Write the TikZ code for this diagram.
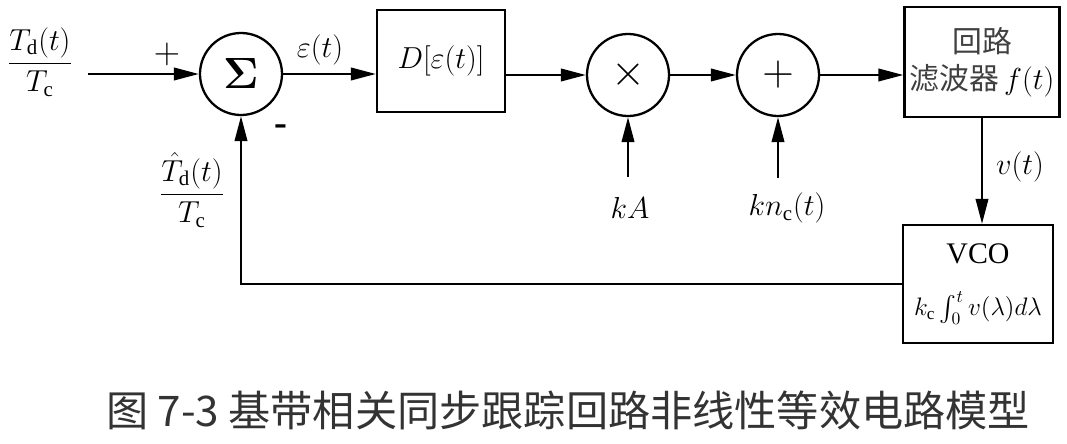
\documentclass[tikz,border=0pt]{standalone}
\usepackage{amsmath}
\usepackage{fontspec}
\setmainfont{Liberation Serif}
\newfontfamily\cjk{Noto Sans CJK SC}
\usepackage{tikz}
\usetikzlibrary{positioning,arrows.meta}

\begin{document}
\begin{tikzpicture}[
  x=0.2mm, y=-0.2mm,
  font=\fontsize{17}{21}\selectfont,
  line width=1.3pt,
  >={Triangle[length=5mm,width=2.5mm]},
  blk/.style={draw, rectangle, inner sep=0pt, align=center},
  opc/.style={draw, circle, minimum size=16.4mm, inner sep=0pt,
              font=\fontsize{28}{28}\selectfont},
  lbl/.style={inner sep=1pt},
]
  \useasboundingbox (0,0) rectangle (1067,444);
  % ── Blocks of the loop ──
  \node[opc] (sum) at (241,74) {$\boldsymbol{\Sigma}$};
  \node[blk, minimum width=25.6mm, minimum height=20.4mm] (dec) at (441,61)
    {$D[\varepsilon(t)]$};
  \node[opc] (mul) at (628,75) {$\times$};
  \node[opc] (add) at (778,75) {$+$};
  \node[blk, minimum width=31mm, minimum height=22mm] (lf) at (982,62)
    {{\cjk\color{black!75}回路}\\{\cjk\color{black!75}滤波器}\,$f(t)$};
  \node[blk, minimum width=30mm, minimum height=23.6mm] (vco) at (978,284)
    {VCO\\[9pt]{\fontsize{14}{16}\selectfont$k_{\mathrm c}\int_0^t v(\lambda)d\lambda$}};
  % ── Free ends of the inputs ──
  \coordinate (in) at (88,74);
  \coordinate (ka) at (628,177);
  \coordinate (kn) at (778,178);
  % ── Signal labels ──
  \node[lbl] (tin) at (40,62) {$\dfrac{T_{\mathrm d}(t)}{T_{\mathrm c}}$};
  \node[lbl] (tfb) at (192,190) {$\dfrac{\hat{T}_{\mathrm d}(t)}{T_{\mathrm c}}$};
  \node[lbl, font=\fontsize{20}{20}\selectfont] (plus) at (167,54) {$+$};
  \node[lbl, font=\fontsize{22}{22}\selectfont\bfseries] (minus) at (281,130) {-};
  \node[lbl] (eps) at (320,50) {$\varepsilon(t)$};
  \node[lbl] (kal) at (630,208) {$kA$};
  \node[lbl] (knl) at (787,208) {$kn_{\mathrm c}(t)$};
  \node[lbl] (vl) at (1020,167) {$v(t)$};
  % ── Connectors ──
  \draw[->] (in) -- (sum);
  \draw[->] (sum) -- (sum -| dec.west);
  \draw[->] (dec.east |- mul) -- (mul);
  \draw[->] (mul) -- (add);
  \draw[->] (add) -- (add -| lf.west);
  \draw[->] (lf.south) -- (lf.south |- vco.north);
  \draw[->] (vco.west) -| (sum.south);
  \draw[->] (ka) -- (mul.south);
  \draw[->] (kn) -- (add.south);
  % ── Caption ──
  \node[font=\cjk\fontsize{24}{24}\selectfont, text=black!80] (cap) at (568,410)
    {图 7-3 基带相关同步跟踪回路非线性等效电路模型};
\end{tikzpicture}
\end{document}
